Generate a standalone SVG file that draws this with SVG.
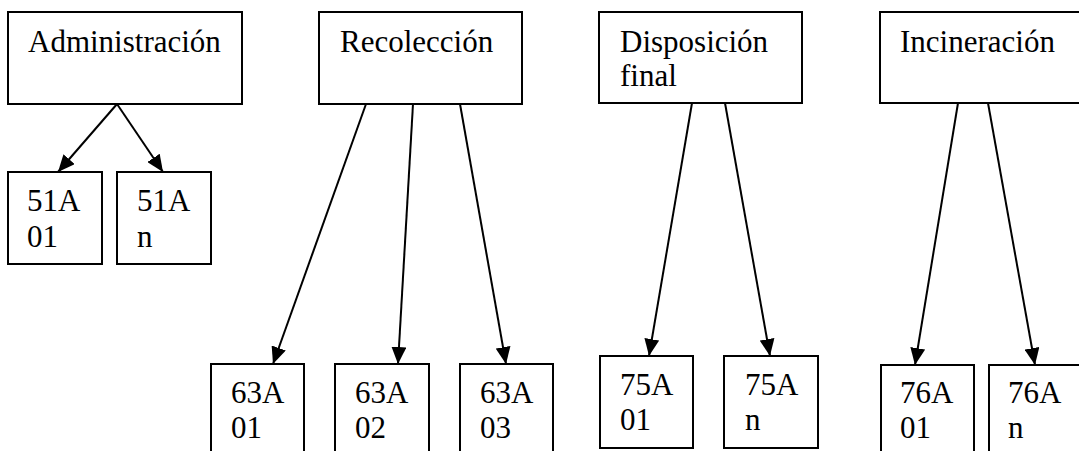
<svg xmlns="http://www.w3.org/2000/svg" width="1079" height="451" viewBox="0 0 1079 451">
  <style>
    .box { fill: #fff; stroke: #000; stroke-width: 2; }
    .lbl { font-family: "Times New Roman", Times, Tinos, "Liberation Serif", "Nimbus Roman", "Noto Serif", FreeSerif, "DejaVu Serif", serif; font-size: 31px; fill: #000; }
    .edge { stroke: #000; stroke-width: 2; fill: none; marker-end: url(#arrow); }
  </style>
  <defs>
    <marker id="arrow" markerUnits="userSpaceOnUse" markerWidth="17" markerHeight="15" refX="17" refY="7.5" orient="auto">
      <path d="M0,0 L17,7.5 L0,15 Z" fill="#000"/>
    </marker>
  </defs>
  <rect width="1079" height="451" fill="#fff"/>

  <!-- top-level categories -->
  <g id="administracion">
    <rect class="box" x="8" y="12" width="234" height="92"/>
    <text class="lbl" x="28" y="52">Administración</text>
  </g>
  <g id="recoleccion">
    <rect class="box" x="319" y="12" width="203" height="92"/>
    <text class="lbl" x="340" y="52">Recolección</text>
  </g>
  <g id="disposicion">
    <rect class="box" x="599" y="12" width="203" height="91"/>
    <text class="lbl" x="620" y="52">Disposición</text>
    <text class="lbl" x="620" y="86">final</text>
  </g>
  <g id="incineracion">
    <rect class="box" x="880" y="12" width="210" height="91"/>
    <text class="lbl" x="900" y="52">Incineración</text>
  </g>

  <!-- codes -->
  <g id="c51A01">
    <rect class="box" x="8" y="172" width="94" height="92"/>
    <text class="lbl" x="27" y="211">51A</text>
    <text class="lbl" x="27" y="247">01</text>
  </g>
  <g id="c51An">
    <rect class="box" x="117" y="172" width="94" height="92"/>
    <text class="lbl" x="137" y="211">51A</text>
    <text class="lbl" x="137" y="247">n</text>
  </g>
  <g id="c63A01">
    <rect class="box" x="211" y="364" width="93" height="100"/>
    <text class="lbl" x="231" y="403">63A</text>
    <text class="lbl" x="231" y="438">01</text>
  </g>
  <g id="c63A02">
    <rect class="box" x="335" y="364" width="94" height="100"/>
    <text class="lbl" x="355" y="403">63A</text>
    <text class="lbl" x="355" y="438">02</text>
  </g>
  <g id="c63A03">
    <rect class="box" x="460" y="364" width="93" height="100"/>
    <text class="lbl" x="480" y="403">63A</text>
    <text class="lbl" x="480" y="438">03</text>
  </g>
  <g id="c75A01">
    <rect class="box" x="600" y="356" width="93" height="92"/>
    <text class="lbl" x="620" y="395">75A</text>
    <text class="lbl" x="620" y="430">01</text>
  </g>
  <g id="c75An">
    <rect class="box" x="724" y="356" width="94" height="92"/>
    <text class="lbl" x="745" y="395">75A</text>
    <text class="lbl" x="745" y="430">n</text>
  </g>
  <g id="c76A01">
    <rect class="box" x="881" y="365" width="93" height="100"/>
    <text class="lbl" x="900" y="403">76A</text>
    <text class="lbl" x="900" y="438">01</text>
  </g>
  <g id="c76An">
    <rect class="box" x="989" y="365" width="100" height="100"/>
    <text class="lbl" x="1008" y="403">76A</text>
    <text class="lbl" x="1008" y="438">n</text>
  </g>

  <!-- connectors -->
  <g id="connectors">
    <line class="edge" x1="117" y1="104" x2="58" y2="172"/>
    <line class="edge" x1="117" y1="104" x2="163" y2="172"/>
    <line class="edge" x1="366" y1="104" x2="273" y2="364"/>
    <line class="edge" x1="413" y1="104" x2="398" y2="364"/>
    <line class="edge" x1="460" y1="104" x2="506" y2="364"/>
    <line class="edge" x1="692" y1="103" x2="649" y2="356"/>
    <line class="edge" x1="725" y1="103" x2="770" y2="356"/>
    <line class="edge" x1="958" y1="103" x2="915" y2="365"/>
    <line class="edge" x1="988" y1="103" x2="1035" y2="365"/>
  </g>
</svg>
